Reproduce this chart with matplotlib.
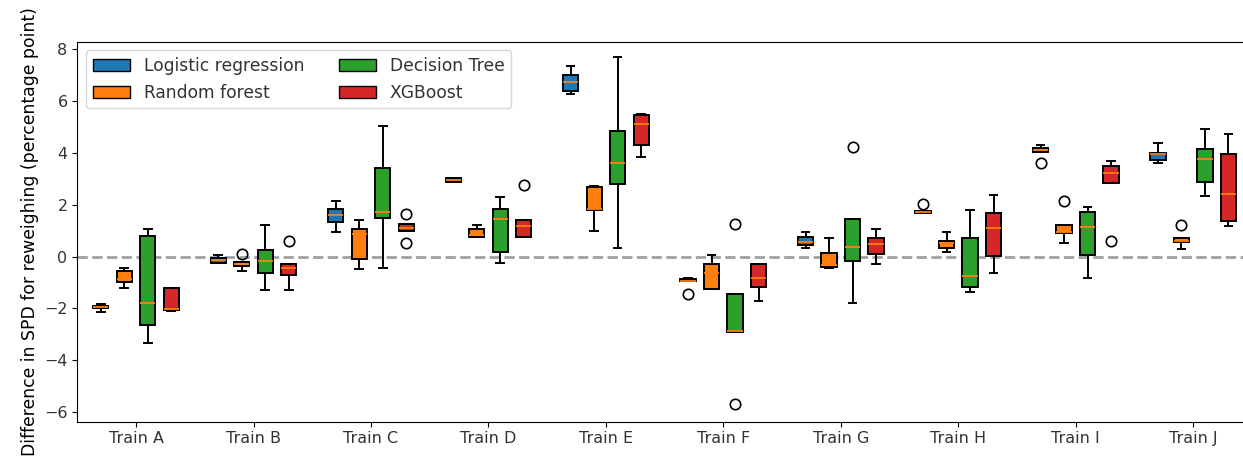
import matplotlib.pyplot as plt
from matplotlib.patches import Patch

# Training sets on the x axis
trains = ["Train A", "Train B", "Train C", "Train D", "Train E",
          "Train F", "Train G", "Train H", "Train I", "Train J"]
models = ["Logistic regression", "Random forest", "Decision Tree", "XGBoost"]
colors = ["#1f77b4", "#ff7f0e", "#2ca02c", "#d62728"]

# box stats per train set: (whisker low, q1, median, q3, whisker high)
logreg = [(-2.12, -1.97, -1.93, -1.89, -1.84), (-0.23, -0.23, -0.13, -0.06, 0.05),
          (0.94, 1.33, 1.62, 1.83, 2.15), (2.87, 2.87, 2.96, 3.05, 3.05),
          (6.28, 6.40, 6.73, 7.01, 7.36), (-0.94, -0.94, -0.93, -0.86, -0.84),
          (0.32, 0.45, 0.55, 0.77, 0.94), (1.67, 1.67, 1.71, 1.75, 1.75),
          (4.03, 4.03, 4.12, 4.18, 4.32), (3.63, 3.73, 3.96, 4.02, 4.38)]
randforest = [(-1.22, -0.97, -0.875, -0.54, -0.42), (-0.55, -0.36, -0.30, -0.19, -0.19),
              (-0.49, -0.09, 0.88, 1.06, 1.40), (0.77, 0.77, 0.84, 1.07, 1.21),
              (1.00, 1.80, 1.83, 2.70, 2.74), (-1.24, -1.24, -0.62, -0.28, 0.06),
              (-0.43, -0.38, -0.33, 0.13, 0.73), (0.18, 0.32, 0.51, 0.60, 0.94),
              (0.51, 0.93, 0.95, 1.21, 1.21), (0.31, 0.57, 0.60, 0.71, 0.71)]
dectree = [(-3.32, -2.64, -1.78, 0.80, 1.07), (-1.29, -0.62, -0.15, 0.26, 1.22),
           (-0.42, 1.48, 1.74, 3.44, 5.05), (-0.23, 0.18, 1.45, 1.85, 2.29),
           (0.32, 2.81, 3.63, 4.85, 7.70), (-2.90, -2.90, -2.87, -1.44, -1.44),
           (-1.78, -0.15, 0.39, 1.45, 1.45), (-1.38, -1.18, -0.76, 0.73, 1.81),
           (-0.82, 0.05, 1.13, 1.72, 1.93), (2.36, 2.88, 3.77, 4.17, 4.92)]
xgboost = [(-2.09, -2.06, -2.03, -1.22, -1.22), (-1.29, -0.69, -0.42, -0.28, -0.28),
           (1.00, 1.00, 1.09, 1.26, 1.26), (0.74, 0.76, 1.18, 1.40, 1.40),
           (3.85, 4.30, 5.12, 5.47, 5.52), (-1.70, -1.18, -0.82, -0.28, -0.28),
           (-0.28, 0.12, 0.48, 0.73, 1.07), (-0.62, 0.04, 1.12, 1.69, 2.37),
           (2.83, 2.83, 3.23, 3.50, 3.71), (1.20, 1.39, 2.42, 3.96, 4.75)]

# outliers per train set
logreg_out = [[], [], [], [], [], [-1.44], [], [2.03], [3.62], []]
randforest_out = [[], [0.10], [], [], [], [], [], [], [2.15], [1.21]]
dectree_out = [[], [], [], [], [], [1.27, -5.69], [4.25], [], [], []]
xgboost_out = [[], [0.60], [1.63, 0.54], [2.75], [], [], [], [], [0.60], []]

plt.rcParams["font.size"] = 11.5
plt.rcParams["text.color"] = "#333333"
plt.rcParams["xtick.labelcolor"] = "#333333"
plt.rcParams["ytick.labelcolor"] = "#333333"

fig = plt.figure(figsize=(12.43, 4.59), dpi=100)
ax = fig.add_axes([0.0622, 0.0813, 0.945, 0.828])

all_stats = [logreg, randforest, dectree, xgboost]
all_out = [logreg_out, randforest_out, dectree_out, xgboost_out]
offsets = [-0.3, -0.1, 0.1, 0.3]

for stats, outs, off, col in zip(all_stats, all_out, offsets, colors):
    bstats = []
    for (lo, q1, med, q3, hi), fl in zip(stats, outs):
        bstats.append({"whislo": lo, "q1": q1, "med": med, "q3": q3,
                       "whishi": hi, "fliers": fl})
    pos = [i + off for i in range(len(trains))]
    ax.bxp(bstats, positions=pos, widths=0.13, patch_artist=True,
           boxprops=dict(facecolor=col, edgecolor="black", linewidth=1.4),
           whiskerprops=dict(linewidth=1.4),
           capprops=dict(linewidth=1.4),
           medianprops=dict(color="#ff7f0e", linewidth=1.3),
           flierprops=dict(marker="o", markersize=7.5, markerfacecolor="none",
                           markeredgecolor="black", markeredgewidth=1.2))

ax.axhline(0, color="#a0a0a0", linestyle="--", linewidth=2, zorder=0)

ax.set_xticks(range(len(trains)))
ax.set_xticklabels(trains)
ax.set_xlim(-0.5, 9.5)
ax.set_ylim(-6.37, 8.30)
ax.set_ylabel("Difference in SPD for reweighing (percentage point)", fontsize=12.4)

handles = [Patch(facecolor=c, edgecolor="black", label=m) for m, c in zip(models, colors)]
ax.legend(handles=handles, loc="upper left", ncol=2, fontsize=12.3,
          handlelength=2.2, borderaxespad=0.5)

fig.savefig("out.png", dpi=100)
